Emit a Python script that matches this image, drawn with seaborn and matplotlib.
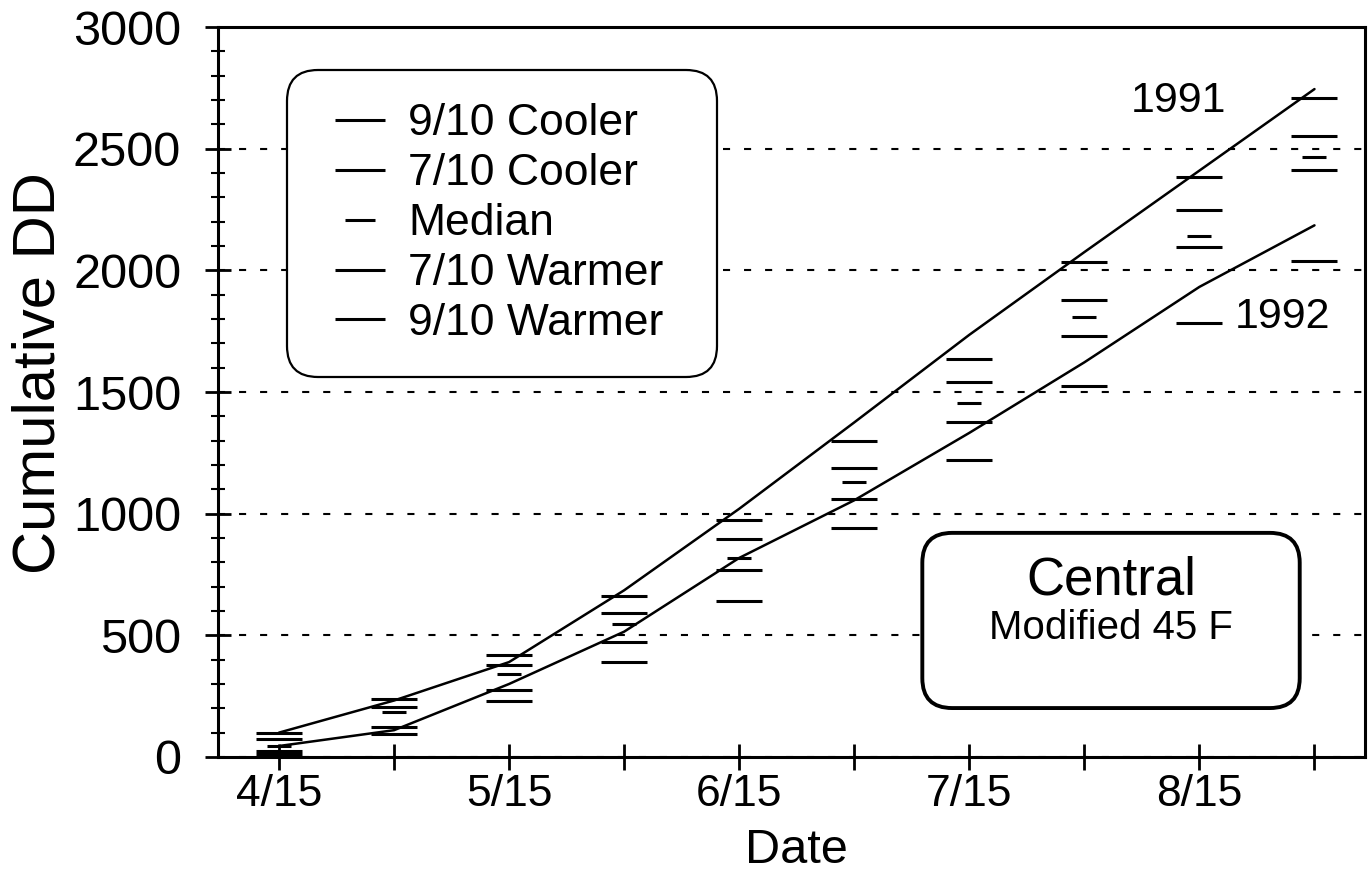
"""
cumulative degree days, central region (modified 45 F)
"""

import matplotlib.pyplot as plt
import numpy as np
import pandas as pd
import seaborn as sns
from matplotlib.lines import Line2D
from matplotlib.patches import FancyBboxPatch
from matplotlib.ticker import MultipleLocator

# data
dates = ["4/15", "5/1", "5/15", "6/1", "6/15", "7/1", "7/15", "8/1", "8/15", "9/1"]
levels = ["9/10 Cooler", "7/10 Cooler", "Median", "7/10 Warmer", "9/10 Warmer"]
cooler_90 = [97, 238, 418, 660, 974, 1297, 1635, 2034, 2383, 2708]
cooler_70 = [74, 206, 380, 590, 896, 1187, 1542, 1879, 2249, 2553]
median = [45, 185, 341, 547, 818, 1132, 1454, 1810, 2140, 2464]
warmer_70 = [26, 123, 275, 473, 770, 1062, 1375, 1732, 2096, 2414]
warmer_90 = [12, 96, 229, 391, 643, 943, 1220, 1523, 1783, 2037]
dd_1991 = [100, 232, 390, 685, 1020, 1375, 1735, 2075, 2410, 2745]
dd_1992 = [45, 110, 300, 515, 818, 1055, 1332, 1622, 1932, 2185]
years = ["1991", "1992"]

# long-form tables
pos = np.arange(len(dates))
dashData = pd.DataFrame(
    {
        "pos": np.tile(pos, len(levels)),
        "dd": cooler_90 + cooler_70 + median + warmer_70 + warmer_90,
        "level": np.repeat(levels, len(dates)),
    }
)
lineData = pd.DataFrame(
    {
        "pos": np.tile(pos, len(years)),
        "dd": dd_1991 + dd_1992,
        "year": np.repeat(years, len(dates)),
    }
)

# style
sns.set_theme(style="ticks")
plt.rcParams["font.family"] = ["Liberation Sans", "DejaVu Sans"]
plt.rcParams["text.color"] = "black"
plt.rcParams["axes.labelcolor"] = "black"
plt.rcParams["axes.edgecolor"] = "black"
plt.rcParams["xtick.color"] = "black"
plt.rcParams["ytick.color"] = "black"

fig = plt.figure(figsize=(13.71, 8.75), dpi=100)
ax = fig.add_axes([0.159, 0.1349, 0.8367, 0.8342])

# plots
sns.scatterplot(
    data=dashData[dashData.level.ne("Median")],
    x="pos",
    y="dd",
    marker="_",
    s=1050,
    color="black",
    linewidth=2.2,
    legend=False,
    zorder=3,
    ax=ax,
)
sns.scatterplot(
    data=dashData[dashData.level.eq("Median")],
    x="pos",
    y="dd",
    marker="_",
    s=300,
    color="black",
    linewidth=2.2,
    legend=False,
    zorder=3,
    ax=ax,
)
sns.lineplot(
    data=lineData,
    x="pos",
    y="dd",
    units="year",
    estimator=None,
    color="black",
    linewidth=1.8,
    legend=False,
    ax=ax,
)

# axes
ax.set_xlim(-0.53, 9.44)
ax.set_ylim(0, 3000)
ax.set_xticks(pos)
ax.set_xticklabels([d if i % 2 == 0 else "" for i, d in enumerate(dates)])
ax.yaxis.set_major_locator(MultipleLocator(500))
ax.yaxis.set_minor_locator(MultipleLocator(100))
ax.tick_params(which="major", direction="inout", length=19, width=2)
ax.tick_params(axis="y", which="minor", direction="inout", length=10, width=1.5)
ax.tick_params(axis="y", pad=17, labelsize=35)
ax.tick_params(axis="x", pad=3, labelsize=32)
ax.yaxis.grid(True, which="major", linestyle=(0, (3.4, 6.7)), linewidth=1.5, color="black")
ax.xaxis.grid(False)
for spine in ax.spines.values():
    spine.set_linewidth(2.2)
    spine.set_color("black")

ax.set_xlabel("Date", fontsize=35)
ax.xaxis.set_label_coords(0.504, -0.145)
ax.xaxis.label.set_verticalalignment("baseline")
ax.set_ylabel("Cumulative DD", fontsize=43)
ax.yaxis.set_label_coords(-0.132, 0.526)

# year labels
ax.text(7.82, 2652, "1991", ha="center", va="baseline", fontsize=31)
ax.text(8.72, 1764, "1992", ha="center", va="baseline", fontsize=31)

# legend
handles = [
    Line2D(
        [], [], marker="_", linestyle="none", color="black",
        markersize=21.6 if lab == "Median" else 36, markeredgewidth=2.2,
    )
    for lab in levels
]
leg = ax.legend(
    handles,
    levels,
    loc="upper left",
    bbox_to_anchor=(0.060, 0.5, 0.375, 0.441),
    mode="expand",
    borderaxespad=0,
    fontsize=32,
    frameon=True,
    fancybox=True,
    borderpad=0.75,
    labelspacing=0.2,
    handlelength=1.8,
    handletextpad=0.18,
    edgecolor="black",
    framealpha=1,
)
leg.get_frame().set_linewidth(1.6)
leg.get_frame().set_boxstyle("round", pad=0, rounding_size=0.7)

# region box
ax.add_patch(
    FancyBboxPatch(
        (0.614, 0.067), 0.329, 0.240,
        boxstyle="round,pad=0,rounding_size=0.026",
        mutation_aspect=1147 / 730,
        transform=ax.transAxes,
        facecolor="white",
        edgecolor="black",
        linewidth=2.8,
        zorder=4,
    )
)
ax.text(0.7785, 0.222, "Central", transform=ax.transAxes, ha="center", va="baseline", fontsize=38, zorder=5)
ax.text(0.7785, 0.162, "Modified 45 F", transform=ax.transAxes, ha="center", va="baseline", fontsize=29, zorder=5)

fig.savefig("out.png", dpi=100)
